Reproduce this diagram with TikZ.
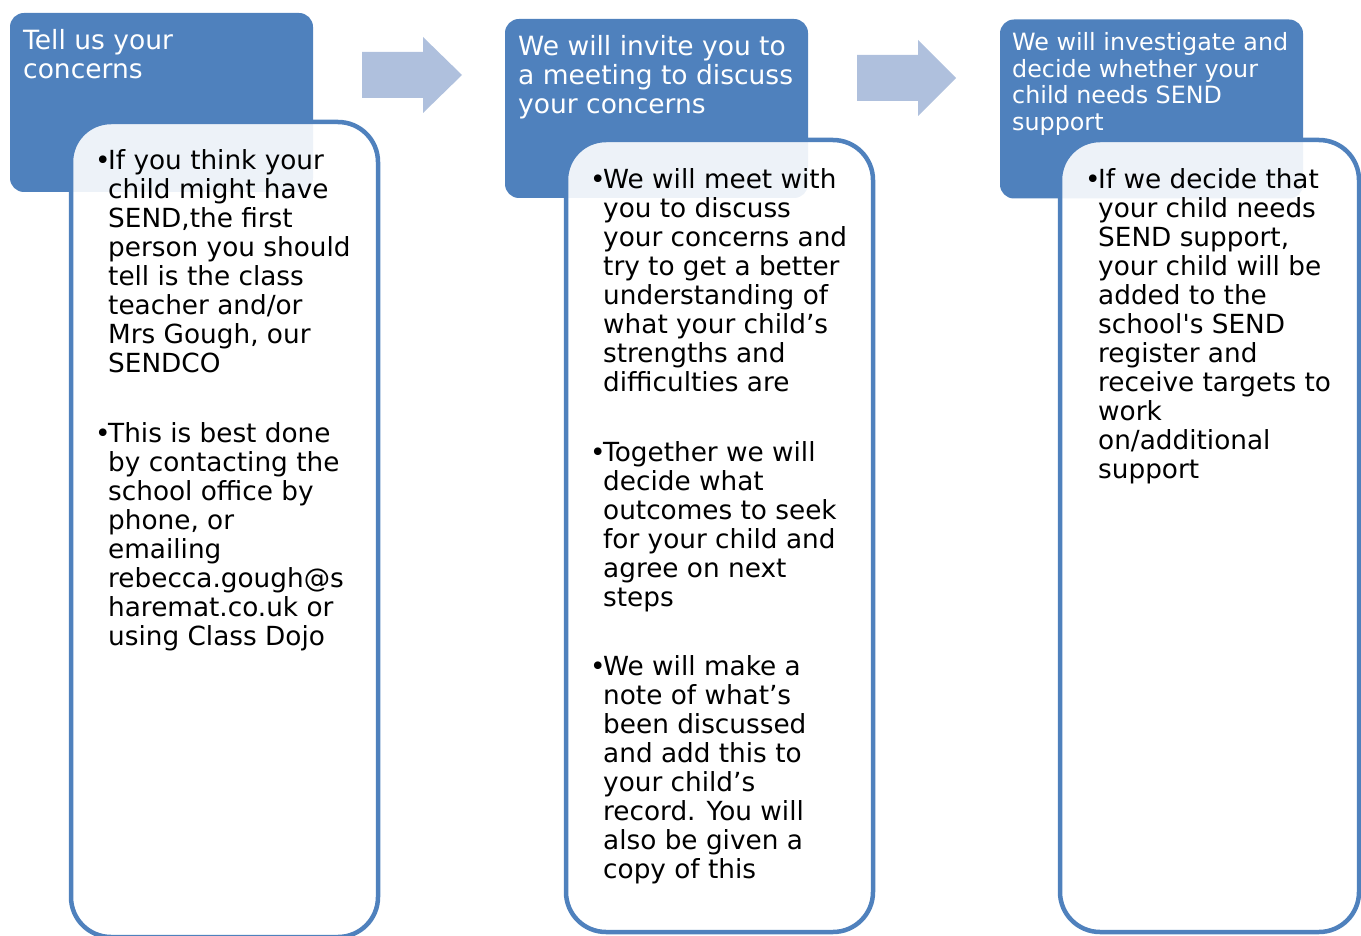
\documentclass[tikz,border=0pt]{standalone}
\usepackage{fontspec}
\setmainfont{DejaVu Sans}
\newfontfamily\plainfont{DejaVu Sans}
\definecolor{accent}{HTML}{4F81BD}
\definecolor{arrowcol}{HTML}{AFC0DD}
\newcommand{\lns}[1]{\begin{tabular}[t]{@{}l@{}}#1\end{tabular}}
\begin{document}
\begin{tikzpicture}[x=1pt,y=-1pt,
  hdr/.style={rectangle, rounded corners=14pt, fill=accent, draw=none, inner sep=0pt, minimum width=303pt, minimum height=179pt},
  bodybox/.style={rectangle, rounded corners=40pt, draw=accent, line width=4.5pt, fill=white, fill opacity=0.9, draw opacity=1, inner sep=0pt},
  hdrtext/.style={anchor=base west, inner sep=0pt, text=white, font=\plainfont\fontsize{26.5}{29}\selectfont},
  hdrsmall/.style={anchor=base west, inner sep=0pt, text=white, font=\plainfont\fontsize{23.8}{26.4}\selectfont},
  bodytext/.style={anchor=base west, inner sep=0pt, text=black, font=\plainfont\fontsize{26.3}{29}\selectfont},
  bul/.style={anchor=base west, inner sep=0pt, text=black, font=\plainfont\fontsize{26.3}{29}\selectfont},
  arrowshape/.style={fill=arrowcol, draw=none}
]
\useasboundingbox (0,0) rectangle (1361,936);
% header boxes
\node[hdr] (h1) at (161.5,102.5) {};
\node[hdr] (h2) at (656.5,108.5) {};
\node[hdr] (h3) at (1151.5,109) {};
% body boxes
\node[bodybox, minimum width=307pt, minimum height=815pt] (b1) at (224.5,529.5) {};
\node[bodybox, minimum width=307pt, minimum height=792pt] (b2) at (719.5,536) {};
\node[bodybox, minimum width=299pt, minimum height=792pt] (b3) at (1209.5,536) {};
% arrows
\fill[arrowshape] (362,52) -- (423,52) -- (423,37) -- (462,75) -- (423,113) -- (423,98) -- (362,98) -- cycle;
\fill[arrowshape] (857,55) -- (918,55) -- (918,40) -- (956,78) -- (918,116) -- (918,101) -- (857,101) -- cycle;
% header texts
\node[hdrtext] (ht1) at (23,50) {\lns{Tell us your\\concerns}};
\node[hdrtext] (ht2) at (518,56) {\lns{We will invite you to\\a meeting to discuss\\your concerns}};
\node[hdrsmall] (ht3) at (1012,51) {\lns{We will investigate and\\decide whether your\\child needs SEND\\support}};
% body 1
\node[bul] (u11) at (95,170) {•};
\node[bodytext] (t11) at (108,170) {\lns{If you think your\\child might have\\SEND,the first\\person you should\\tell is the class\\teacher and/or\\Mrs Gough, our\\SENDCO}};
\node[bul] (u12) at (95,442) {•};
\node[bodytext] (t12) at (108,442) {\lns{This is best done\\by contacting the\\school office by\\phone, or\\emailing\\rebecca.gough@s\\haremat.co.uk or\\using Class Dojo}};
% body 2
\node[bul] (u21) at (590,189) {•};
\node[bodytext] (t21) at (603,189) {\lns{We will meet with\\you to discuss\\your concerns and\\try to get a better\\understanding of\\what your child’s\\strengths and\\difficulties are}};
\node[bul] (u22) at (590,461) {•};
\node[bodytext] (t22) at (603,461) {\lns{Together we will\\decide what\\outcomes to seek\\for your child and\\agree on next\\steps}};
\node[bul] (u23) at (590,675) {•};
\node[bodytext] (t23) at (603,675) {\lns{We will make a\\note of what’s\\been discussed\\and add this to\\your child’s\\record. You will\\also be given a\\copy of this}};
% body 3
\node[bul] (u31) at (1085,189) {•};
\node[bodytext] (t31) at (1098,189) {\lns{If we decide that\\your child needs\\SEND support,\\your child will be\\added to the\\school's SEND\\register and\\receive targets to\\work\\on/additional\\support}};
\end{tikzpicture}
\end{document}
